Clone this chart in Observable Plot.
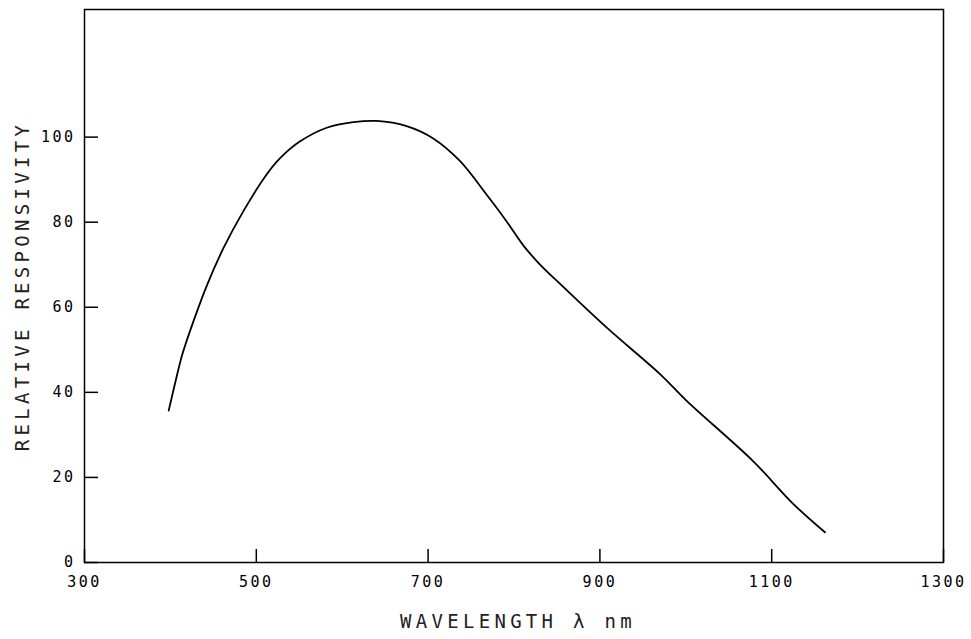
<!DOCTYPE html>
<html>
<head>
<meta charset="utf-8">
<script src="https://cdn.jsdelivr.net/npm/d3@7"></script>
<script src="https://cdn.jsdelivr.net/npm/@observablehq/plot@0.6"></script>
<style>
  html, body { margin: 0; padding: 0; background: #fff; }
  #chart svg { display: block; }
  #chart g[aria-label$="tick label"] text { letter-spacing: 2.5px; }
  #chart g[aria-label="text"] text { letter-spacing: 4.3px; }
</style>
</head>
<body>
<div id="chart"></div>
<script>
// Data
const wavelength = [398, 408, 414, 427, 443, 462, 485, 512, 528, 551, 582, 613, 640, 675, 706, 737, 768, 791, 811, 830, 850, 908, 970, 1001, 1078, 1125, 1162];
const responsivity = [35.7, 44.3, 49, 56.8, 65.4, 74, 82.6, 91.2, 95.1, 99, 102.2, 103.5, 103.8, 102.6, 99.7, 94.4, 86.5, 80.3, 74.5, 70.1, 66.2, 55.2, 44.3, 38, 23.9, 13.8, 7.1];
const xTicks = [300, 500, 700, 900, 1100, 1300];
const yTicks = [0, 20, 40, 60, 80, 100];
const xTitle = "WAVELENGTH λ nm";
const yTitle = "RELATIVE RESPONSIVITY";

const data = wavelength.map((w, i) => ({w, r: responsivity[i]}));
const font = "'DejaVu Sans Mono', 'Liberation Mono', monospace";

const W = 971, H = 639, ML = 84, MR = 28, MT = 9, MB = 77;
const innerW = W - ML - MR, innerH = H - MT - MB;

const chart = Plot.plot({
  width: W,
  height: H,
  marginLeft: ML,
  marginRight: MR,
  marginTop: MT,
  marginBottom: MB,
  style: {fontFamily: font, background: "#fff", color: "#000"},
  x: {domain: [xTicks[0], xTicks[xTicks.length - 1]]},
  y: {domain: [0, 130]},
  marks: [
    Plot.frame({stroke: "#000", strokeWidth: 1.5}),
    // tick labels
    Plot.axisX(xTicks, {tickSize: 0, tickPadding: 14, fontSize: 15, label: null, tickFormat: d => String(d)}),
    Plot.axisY(yTicks, {tickSize: 0, tickPadding: 9, fontSize: 15, label: null, tickFormat: d => String(d)}),
    // inward tick marks
    Plot.tickX(xTicks, {x: d => d, insetTop: innerH - 13, stroke: "#000", strokeWidth: 1.5}),
    Plot.tickY(yTicks, {y: d => d, insetRight: innerW - 14, stroke: "#000", strokeWidth: 1.5}),
    Plot.line(data, {x: "w", y: "r", curve: "catmull-rom", stroke: "#000", strokeWidth: 1.8}),
    Plot.text([yTitle], {frameAnchor: "left", textAnchor: "middle", rotate: -90, dx: -62, fontSize: 19, fill: "#222"}),
    Plot.text([xTitle], {frameAnchor: "bottom", textAnchor: "middle", dy: 65, dx: 4, fontSize: 19, fill: "#222"})
  ]
});
document.getElementById("chart").append(chart);
</script>
</body>
</html>
